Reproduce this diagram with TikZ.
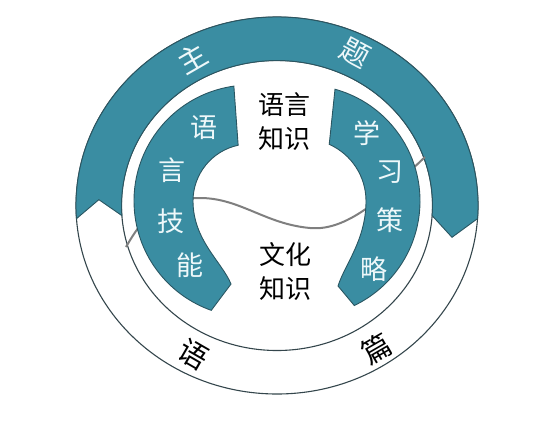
\documentclass[tikz,border=0pt]{standalone}
\usepackage{fontspec}
\newfontfamily\cjk{Noto Sans CJK SC}
\usetikzlibrary{math}
\definecolor{tealfill}{HTML}{3A8DA2}
\definecolor{tealedge}{HTML}{2A5662}
\definecolor{ringcol}{HTML}{34464C}
\definecolor{wavecol}{HTML}{7F7F7F}
\definecolor{pale}{HTML}{EEF8FA}

\begin{document}
\begin{tikzpicture}[x=1pt,y=-1pt,
	band/.style={fill=tealfill,draw=tealedge,line width=0.9pt},
	ringline/.style={draw=ringcol,line width=1.1pt},
	wave/.style={draw=wavecol,line width=2pt},
	bandtext/.style={font=\cjk\fontsize{29}{29}\selectfont,text=pale,inner sep=0pt},
	ringtext/.style={font=\cjk\fontsize{29}{29}\selectfont,text=black,inner sep=0pt},
	arctext/.style={font=\cjk\fontsize{27}{27}\selectfont,text=pale,inner sep=0pt},
	midtext/.style={font=\cjk\fontsize{26}{34}\selectfont,text=black,align=center,inner sep=0pt}]
\useasboundingbox (0,0) rectangle (534,433);
\tikzmath{\Rox = 201; \Roy = 188.5;
		  \Rix = 155.5; \Riy = 145;
		  \Rmx = (\Rox + \Rix)/2; \Rmy = (\Roy + \Riy)/2;
		}
\begin{scope}[shift={(277,205.5)}]
	% rings
	\draw[ringline] (0,0) ellipse[x radius=\Rox, y radius=\Roy];
	\draw[ringline] (0,0) ellipse[x radius=\Rix, y radius=\Riy];
	% top band, notch on the left, arrow on the right
	\draw[band] (176:{\Rox} and {\Roy}) arc[start angle=176, end angle=364, x radius=\Rox, y radius=\Roy]
		-- (371:{\Rmx} and {\Rmy}) -- (364:{\Rix} and {\Riy})
		arc[start angle=364, end angle=176, x radius=\Rix, y radius=\Riy]
		-- (182:{\Rmx} and {\Rmy}) -- cycle;
\end{scope}
% wave
\draw[wave] (126,247) .. controls (150,205) and (168,198) .. (200,198)
	.. controls (240,198) and (265,224) .. (310,228)
	.. controls (350,232) and (390,190) .. (425,157);
% the two arcs
\draw[band] (250,201) ++(-98:116) arc[start angle=-98, end angle=-250.5, radius=116]
	-- (231,284) .. controls (222,262) and (193,240) .. (193,201)
	arc[start angle=180, end angle=258, radius=57] -- cycle;
\draw[band] (304,201) ++(-74.5:116) arc[start angle=-74.5, end angle=64.3, radius=116]
	-- (338,286) .. controls (345,264) and (366,240) .. (366,201)
	arc[start angle=0, end angle=-66, radius=62] -- cycle;
% texts
\node[bandtext,rotate=30] (zhu) at (192,58) {主};
\node[bandtext,rotate=-28] (ti) at (355,53) {题};
\node[ringtext,rotate=-30] (yu) at (193,355) {语};
\node[ringtext,rotate=30] (pian) at (377,349) {篇};
\node[arctext] (ji1) at (204,128) {语};
\node[arctext] (ji2) at (172,170) {言};
\node[arctext] (ji3) at (171,221) {技};
\node[arctext] (ji4) at (190,265) {能};
\node[arctext] (ce1) at (367,133) {学};
\node[arctext] (ce2) at (390,172) {习};
\node[arctext] (ce3) at (390,220) {策};
\node[arctext] (ce4) at (374,269) {略};
\node[midtext] (yyzs) at (284,122) {语言\\知识};
\node[midtext] (whzs) at (285,272) {文化\\知识};
\end{tikzpicture}
\end{document}
